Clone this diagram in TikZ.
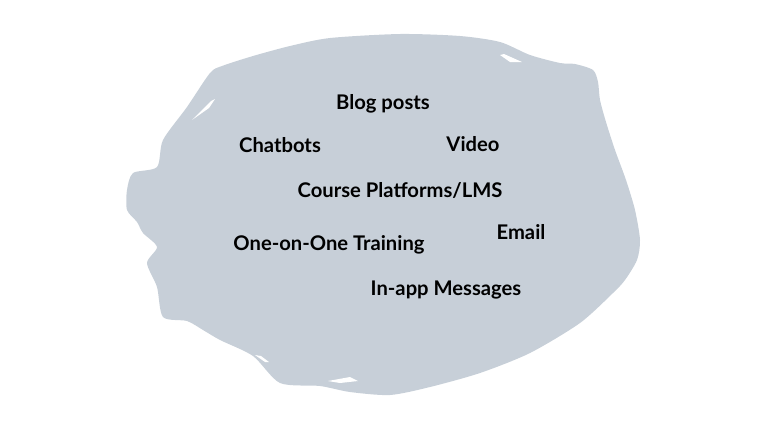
\documentclass[tikz,border=0pt]{standalone}
\usepackage{fontspec}
\setmainfont{Lato}
\definecolor{blobc}{HTML}{C7CFD8}
\begin{document}
\begin{tikzpicture}[x=1pt,y=-1pt,
  lbl/.style={font=\bfseries\fontsize{20.2}{24}\selectfont, text=black, inner sep=0pt}]
\useasboundingbox (0,0) rectangle (771,421);
\fill[blobc] plot[smooth cycle, tension=0.45] coordinates {
 (210,73) (222,66) (253,56) (290,46) (330,38) (400,34) (460,36) (500,42)
 (530,55) (560,63) (575,64) (593,70) (598,82) (600,100) (606,122) (615,150)
 (626,180) (635,210) (640,240) (637,260) (625,280) (613,293) (580,323)
 (530,353) (480,373) (430,387) (390,395) (350,392) (320,386) (280,383)
 (253,356) (220,340) (203,330) (187,321) (163,317) (157,287) (147,263)
 (157,247) (143,233) (137,222) (127,210) (127,190) (133,173) (157,167)
 (163,140) (187,107)};
% white streaks
\fill[white] (192,120) -- (211,101) -- (215,99) -- (209,108) -- cycle;
\fill[white] (500,55) -- (504,54) -- (522,62) -- (510,62) -- cycle;
\fill[white] (255,355) -- (261,356) -- (269,362) -- (265,362) -- cycle;
\fill[white] (328,381) -- (350,377) -- (358,381) -- (340,383) -- cycle;
\node[lbl] (blog) at (383,104) {Blog posts};
\node[lbl] (chat) at (280,145) {Chatbots};
\node[lbl] (video) at (473,144) {Video};
\node[lbl] (course) at (400,190) {Course Platforms/LMS};
\node[lbl] (email) at (521,232) {Email};
\node[lbl] (one) at (329,245) {One-on-One Training};
\node[lbl] (inapp) at (446,290) {In-app Messages};
\end{tikzpicture}
\end{document}
